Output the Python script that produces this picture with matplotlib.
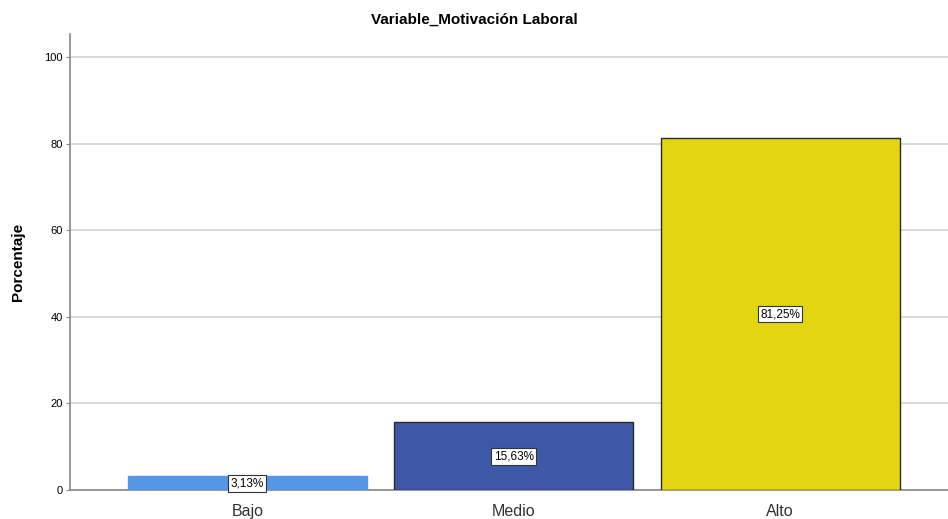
import numpy as np
import matplotlib.pyplot as plt

# category data
categorias = ["Bajo", "Medio", "Alto"]
porcentajes = [3.13, 15.63, 81.25]
etiquetas = ["3,13%", "15,63%", "81,25%"]
colores = ["#5596E6", "#3E58A8", "#E1D60F"]
bordes = ["#5596E6", "#2a2a2a", "#2a2a2a"]

plt.rcParams['font.family'] = ['Liberation Sans', 'DejaVu Sans']

fig = plt.figure(figsize=(9.48, 5.19), dpi=100)
ax = fig.add_axes([0.0738, 0.0559, 0.9262, 0.8786])

x = np.arange(len(categorias))
ax.bar(x, porcentajes, width=0.897, color=colores, edgecolor=bordes, linewidth=1.0, zorder=3)

for xi, v, t in zip(x, porcentajes, etiquetas):
    ax.text(xi, v / 2, t, ha='center', va='center', fontsize=8.5, zorder=4,
            bbox=dict(boxstyle='square,pad=0.2', fc='white', ec='#333333', lw=0.8))

ax.set_xlim(-0.666, 2.63)
ax.set_ylim(0, 105.3)
ax.set_yticks([0, 20, 40, 60, 80, 100])
ax.set_xticks(x)
ax.set_xticklabels(categorias, fontsize=11.5, color='#333333')
ax.tick_params(axis='y', labelsize=8, length=3, color='#888888', pad=2)
ax.tick_params(axis='x', length=0, pad=10)
ax.yaxis.grid(True, color='#d4d4d4', linewidth=1.2, zorder=0)

for s in ['top', 'right']:
    ax.spines[s].set_visible(False)
for s in ['left', 'bottom']:
    ax.spines[s].set_color('#888888')
    ax.spines[s].set_linewidth(1.2)

ax.set_ylabel("Porcentaje", fontsize=11, fontweight='bold', labelpad=14)
fig.suptitle("Variable_Motivación Laboral", fontsize=11, fontweight='bold', y=0.975)

fig.savefig("out.png", dpi=100)
